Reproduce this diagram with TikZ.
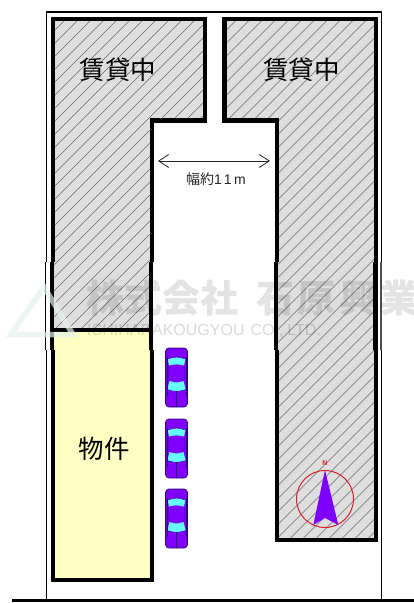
\documentclass[tikz,border=0pt]{standalone}
\usepackage{fontspec}
\usetikzlibrary{arrows.meta}
\newfontfamily\cjk{Noto Sans CJK JP}
\setmainfont{Liberation Sans}
\definecolor{wallgray}{HTML}{DEDEDE}
\definecolor{hatchgray}{HTML}{6A6A6A}
\definecolor{lotyellow}{HTML}{FFFFC4}
\definecolor{carviolet}{HTML}{7F00FF}
\definecolor{carglass}{HTML}{66FFFF}
\definecolor{carline}{HTML}{2A0A70}
\definecolor{compassred}{HTML}{D8202A}
\definecolor{logogreen}{HTML}{E6F1EB}
\tikzset{
  x=1pt,y=-1pt,
  thinwall/.style={draw=black,line width=1.3pt},
  wall/.style={draw=black,line width=4.4pt,line join=miter},
  hatchline/.style={draw=hatchgray,line width=0.55pt},
  bigtext/.style={font=\cjk\fontsize{25.5}{25.5}\selectfont,inner sep=0pt},
  watermark/.style={font=\cjk\bfseries\fontsize{38}{38}\selectfont,text=black,text opacity=0.11,inner sep=0pt},
  car/.pic={
    \fill[carviolet,draw=carline,line width=0.7pt,rounded corners=3.5pt] (-11,0) rectangle (11,59);
    \fill[carglass] (-8.8,11) .. controls (0,8.5) .. (8.8,11) -- (7.5,17.5) .. controls (0,16) .. (-7.5,17.5) -- cycle;
    \fill[carglass] (-7,33) .. controls (0,35) .. (7,33) -- (9.2,41.5) .. controls (0,44) .. (-9.2,41.5) -- cycle;
    \draw[carline,line width=0.4pt] (-9.5,9) -- (-9.5,48) (9.5,9) -- (9.5,48) (0,43) -- (0,59);
    \draw[carline,line width=0.4pt] (-8.8,11) .. controls (0,8.5) .. (8.8,11) (-9.2,41.5) .. controls (0,44) .. (9.2,41.5);
    \draw[carline,line width=0.3pt] (-7.5,17.5) .. controls (-9,25) .. (-7,33) (7.5,17.5) .. controls (9,25) .. (7,33);
  }
}
\begin{document}
\begin{tikzpicture}
\useasboundingbox (0,0) rectangle (414,603);
\fill[white] (0,0) rectangle (414,603);
% site boundary
\draw[thinwall] (46.5,262) -- (46.5,12) -- (381.5,12) -- (381.5,262);
\draw[thinwall] (45.6,262) -- (45.6,350);
\draw[thinwall,draw=black!70] (381,262) -- (381,350);
\draw[thinwall] (46.5,350) -- (46.5,600);
\draw[thinwall] (381.5,350) -- (381.5,600);
\draw[line width=2.4pt] (12,600.5) -- (414,600.5);
% fills
\path[fill=wallgray] (53,19) -- (205,19) -- (205,120.5) -- (152,120.5) -- (152,330) -- (53,330) -- cycle;
\path[fill=wallgray] (224.5,19) -- (376,19) -- (376,540) -- (277,540) -- (277,120.5) -- (224.5,120.5) -- cycle;
\path[fill=lotyellow] (53,330) rectangle (152,580);
% hatching
\begin{scope}
\clip (53,19) -- (205,19) -- (205,120.5) -- (152,120.5) -- (152,330) -- (53,330) -- cycle;
\foreach \k in {0,13,...,520} {\draw[hatchline] (53+\k-320,19+320) -- (53+\k+100,19-100);}
\end{scope}
\begin{scope}
\clip (224.5,19) -- (376,19) -- (376,540) -- (277,540) -- (277,120.5) -- (224.5,120.5) -- cycle;
\foreach \k in {0,13,...,780} {\draw[hatchline] (224.5+\k-600,19+600) -- (224.5+\k+100,19-100);}
\end{scope}
% walls
\draw[wall] (53,262) -- (53,19) -- (205,19) -- (205,120.5) -- (152,120.5) -- (152,262);
\draw[wall] (52,262) -- (52,350) (151,262) -- (151,350);
\draw[wall,line width=3.6pt] (52,330) -- (151,330);
\draw[wall] (53,350) -- (53,580) -- (152,580) -- (152,350);
\draw[wall] (277,262) -- (277,120.5) -- (224.5,120.5) -- (224.5,19) -- (376,19) -- (376,262);
\draw[wall] (276,262) -- (276,350) (375.6,262) -- (375.6,350);
\draw[wall] (277,350) -- (277,540) -- (376,540) -- (376,350);
% labels
\node[bigtext] (chinL) at (118,70) {賃貸中};
\node[bigtext] (chinR) at (301.5,69.5) {賃貸中};
\node[bigtext] (bukken) at (104,448.5) {物件};
\coordinate (wL) at (158,161);
\coordinate (wR) at (270,161);
\draw[{Straight Barb[length=10pt,width=13pt]}-{Straight Barb[length=10pt,width=13pt]},line width=0.8pt,draw=black!85] (wL) -- (wR);
\node[inner sep=0pt,font=\fontsize{14}{14}\selectfont,text=black!85] (width) at (216,179) {{\cjk 幅約}1\kern2pt 1\kern2.5pt m};
% cars
\pic at (176.5,348) {car};
\pic at (176.5,419) {car};
\pic at (176.5,489) {car};
% compass
\node[circle,draw=compassred,line width=1pt,minimum size=57pt,inner sep=0pt] (compass) at (325,499) {};
\fill[carviolet] (325,470) -- (338.3,525) -- (325,518) -- (313.3,525) -- cycle;
\node[inner sep=0pt,text=compassred,font=\bfseries\fontsize{7}{7}\selectfont] (north) at (325,463) {N};
% watermark
\draw[draw=logogreen,line width=5.5pt,opacity=0.7,line join=miter] (44,287) -- (11,334.5) -- (73,334.5) -- cycle;
\node[watermark,anchor=west] (wmA) at (86,298) {株式会社};
\node[watermark,anchor=west] (wmB) at (256,298) {石\kern3.5pt 原\kern3.5pt 興\kern3.5pt 業};
\node[inner sep=0pt,anchor=west,text=black,text opacity=0.15,font=\fontsize{16}{16}\selectfont] (wmC) at (87,331) {ISHIHARAKOUGYOU\kern6pt CO.,\kern4pt LTD.};
\end{tikzpicture}
\end{document}
